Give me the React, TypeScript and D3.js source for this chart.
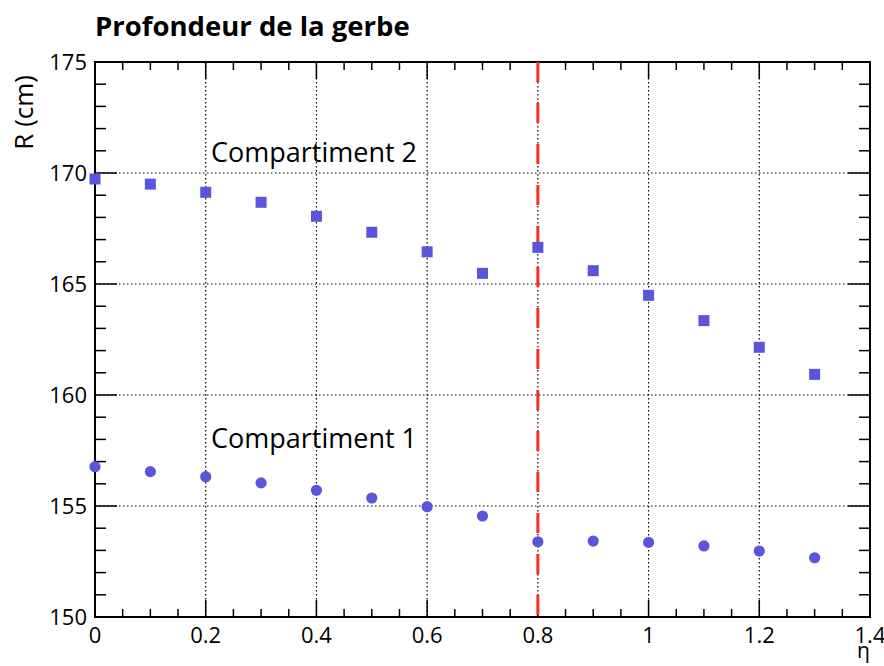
import * as d3 from 'd3';

// eta bins
const etaValues = [0, 0.1, 0.2, 0.3, 0.4, 0.5, 0.6, 0.7, 0.8, 0.9, 1.0, 1.1, 1.2, 1.3];
// Compartiment 2 (squares)
const comp2 = [169.73, 169.5, 169.13, 168.68, 168.05, 167.33, 166.45, 165.48, 166.65, 165.6, 164.49, 163.35, 162.15, 160.93];
// Compartiment 1 (circles)
const comp1 = [156.77, 156.55, 156.32, 156.04, 155.71, 155.36, 154.97, 154.55, 153.39, 153.42, 153.36, 153.2, 152.97, 152.67];

const xTickLabels = ['0', '0.2', '0.4', '0.6', '0.8', '1', '1.2', '1.4'];
const xMajor = [0, 0.2, 0.4, 0.6, 0.8, 1.0, 1.2, 1.4];
const yMajor = [150, 155, 160, 165, 170, 175];
const cutEta = 0.8;

const W = 884;
const H = 666;
const M = { left: 95, right: 14, top: 62, bottom: 49 };
const FONT = '"Open Sans", "DejaVu Sans", sans-serif';
const MARKER = '#5b55dc';

export default function App() {
  const x = d3.scaleLinear().domain([0, 1.4]).range([M.left, W - M.right]);
  const y = d3.scaleLinear().domain([150, 175]).range([H - M.bottom, M.top]);
  const [x0, x1] = x.range();
  const [y0, y1] = y.range();

  const xMinor = d3.range(0, 1.4001, 0.05).filter((v) => !xMajor.some((m) => Math.abs(m - v) < 1e-6));
  const yMinor = d3.range(150, 175.001, 1).filter((v) => v % 5 !== 0);

  const sq = 11;

  return (
    <svg
      width={W}
      height={H}
      style={{ position: 'absolute', left: 0, top: 0, background: '#fff' }}
      fontFamily={FONT}
    >
      {/* grid */}
      <g stroke="#000" strokeWidth={1.2} strokeDasharray="1.5,2.5">
        {xMajor.slice(1, -1).map((v) => (
          <line key={`gx${v}`} x1={x(v)} x2={x(v)} y1={y1} y2={y0} />
        ))}
        {yMajor.slice(1, -1).map((v) => (
          <line key={`gy${v}`} x1={x0} x2={x1} y1={y(v)} y2={y(v)} />
        ))}
      </g>

      {/* ticks */}
      <g stroke="#000" strokeWidth={1.5}>
        {xMajor.map((v) => (
          <g key={`tx${v}`}>
            <line x1={x(v)} x2={x(v)} y1={y0} y2={y0 - 17} />
            <line x1={x(v)} x2={x(v)} y1={y1} y2={y1 + 17} />
          </g>
        ))}
        {xMinor.map((v) => (
          <g key={`mx${v}`}>
            <line x1={x(v)} x2={x(v)} y1={y0} y2={y0 - 8} />
            <line x1={x(v)} x2={x(v)} y1={y1} y2={y1 + 8} />
          </g>
        ))}
        {yMajor.map((v) => (
          <g key={`ty${v}`}>
            <line x1={x0} x2={x0 + 22} y1={y(v)} y2={y(v)} />
            <line x1={x1} x2={x1 - 22} y1={y(v)} y2={y(v)} />
          </g>
        ))}
        {yMinor.map((v) => (
          <g key={`my${v}`}>
            <line x1={x0} x2={x0 + 11} y1={y(v)} y2={y(v)} />
            <line x1={x1} x2={x1 - 11} y1={y(v)} y2={y(v)} />
          </g>
        ))}
      </g>

      {/* frame */}
      <rect x={x0} y={y1} width={x1 - x0} height={y0 - y1} fill="none" stroke="#000" strokeWidth={2} />

      {/* eta = 0.8 cut */}
      <line
        x1={x(cutEta)}
        x2={x(cutEta)}
        y1={y1}
        y2={y0}
        stroke="#ff2b1c"
        strokeWidth={3}
        strokeDasharray="20,21"
      />

      {/* Compartiment 2 */}
      {comp2.map((v, i) => (
        <rect
          key={`s${i}`}
          x={x(etaValues[i]) - sq / 2}
          y={y(v) - sq / 2}
          width={sq}
          height={sq}
          fill={MARKER}
        />
      ))}

      {/* Compartiment 1 */}
      {comp1.map((v, i) => (
        <circle key={`c${i}`} cx={x(etaValues[i])} cy={y(v)} r={5.6} fill={MARKER} />
      ))}

      {/* tick labels */}
      <g fontSize={22} fill="#000">
        {xMajor.map((v, i) => (
          <text key={`lx${v}`} x={x(v)} y={y0 + 26} textAnchor="middle">
            {xTickLabels[i]}
          </text>
        ))}
        {yMajor.map((v) => (
          <text key={`ly${v}`} x={x0 - 8} y={y(v) + 8} textAnchor="end">
            {v}
          </text>
        ))}
      </g>

      {/* labels */}
      <text x={95} y={36} fontSize={27.5} fontWeight={700}>
        Profondeur de la gerbe
      </text>
      <text transform={`translate(33,${y1 + 13}) rotate(-90)`} fontSize={26} textAnchor="end">
        R (cm)
      </text>
      <text x={x1} y={658} fontSize={21} textAnchor="end">
        η
      </text>
      <text x={211} y={162} fontSize={27}>
        Compartiment 2
      </text>
      <text x={211} y={448} fontSize={27}>
        Compartiment 1
      </text>
    </svg>
  );
}
